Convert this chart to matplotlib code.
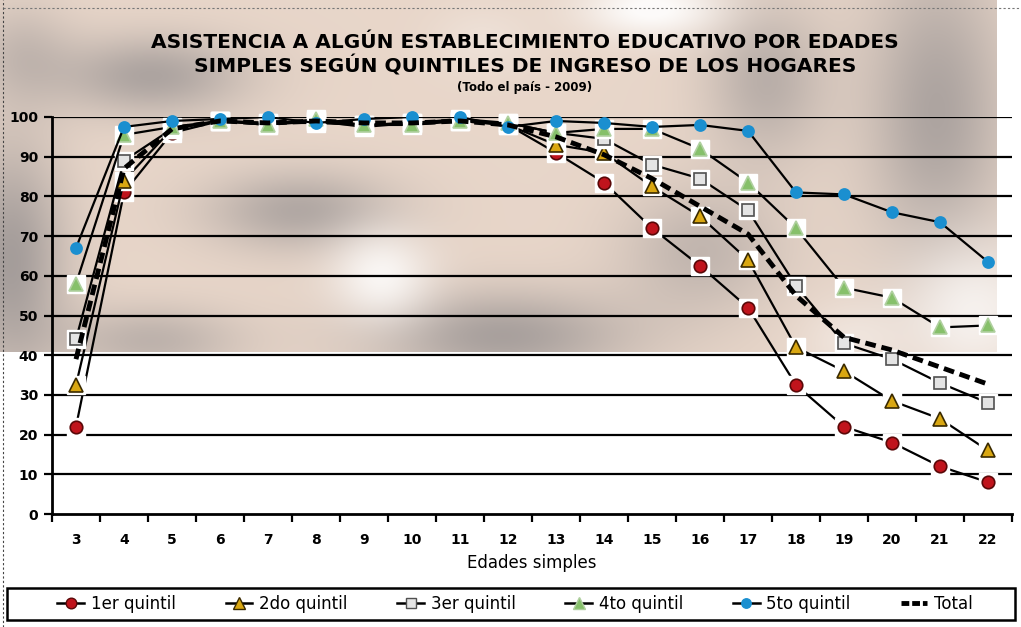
import numpy as np
import matplotlib.pyplot as plt
from matplotlib.lines import Line2D
from matplotlib.patches import Rectangle

plt.rcParams['font.family'] = ['DejaVu Sans']

edades = [str(e) for e in range(3, 23)]
q1 = [22, 81, 96, 99, 98.5, 98.5, 98, 98.5, 99, 98, 91, 83.5, 72, 62.5, 52, 32.5, 22, 18, 12, 8]
q2 = [32.5, 84, 97, 99, 98, 99, 98, 98.5, 99, 98, 93, 91, 82.5, 75, 64, 42, 36, 28.5, 24, 16]
q3 = [44, 89, 97, 99, 98.5, 99, 97.5, 98.5, 99.5, 98.5, 96, 94.5, 88, 84.5, 76.5, 57.5, 43, 39, 33, 28]
q4 = [58, 95.5, 97.5, 99, 98, 99.5, 98, 98, 99, 98.5, 96, 97, 97, 92, 83.5, 72, 57, 54.5, 47, 47.5]
q5 = [67, 97.5, 99, 99.5, 100, 98.5, 99.5, 100, 100, 97.5, 99, 98.5, 97.5, 98, 96.5, 81, 80.5, 76, 73.5, 63.5]
total = [39, 87, 97, 99, 98.5, 99, 98.5, 98.5, 99, 98, 95, 90.5, 84.5, 77.5, 70.5, 55, 44.5, 41.3, 37, 32.7]

fig = plt.figure(figsize=(10.21, 6.27), dpi=100)

# blurred photo-like background on the upper part (pixel grid, decoration only)
bg = fig.add_axes([0, 275 / 627, 996 / 1021, 352 / 627], zorder=-10)
yy, xx = np.mgrid[0:352:2, 0:996:2]
def blob(cx, cy, sx, sy, amp):
    return amp * np.exp(-(((xx - cx) / sx) ** 2 + ((yy - cy) / sy) ** 2))
dark = (blob(150, 75, 95, 40, 0.7) + blob(10, 260, 55, 120, 0.8) + blob(300, 210, 95, 40, 0.65)
        + blob(500, 335, 130, 45, 0.75) + blob(765, 80, 60, 80, 0.55) + blob(935, 110, 70, 150, 0.7)
        + blob(700, 250, 80, 65, 0.45) + blob(150, 340, 90, 35, 0.5) + blob(20, 50, 50, 50, 0.35))
light = (blob(380, 275, 50, 45, 0.8) + blob(650, 8, 70, 30, 0.95) + blob(970, 310, 70, 70, 0.7)
         + blob(480, 40, 50, 35, 0.25) + blob(850, 340, 50, 40, 0.35))
dark = np.clip(dark, 0, 0.8)
light = np.clip(light, 0, 0.9)
base = np.array([0.91, 0.84, 0.79])
grey = np.array([0.58, 0.56, 0.56])
img = np.empty(dark.shape + (3,))
for c in range(3):
    img[:, :, c] = base[c] * (1 - dark) + grey[c] * dark
    img[:, :, c] = img[:, :, c] * (1 - light) + 1.0 * light
bg.imshow(np.clip(img, 0, 1), aspect='auto', extent=[0, 1, 0, 1], interpolation='bilinear')
bg.axis('off')

ax = fig.add_axes([52 / 1021, 113 / 627, 960 / 1021, 397 / 627])
ax.patch.set_alpha(0)
x = np.arange(len(edades))

for v in range(10, 101, 10):
    ax.axhline(v, color='black', lw=1.6, zorder=1)

series = [
    (q1, 'o', '#c0141c', '#5a0808', 9, True, '1er quintil'),
    (q2, '^', '#d9a712', '#3a2a00', 10, True, '2do quintil'),
    (q3, 's', '#e4e4e4', '#505050', 8, True, '3er quintil'),
    (q4, '^', '#86c06a', '#b0d0a0', 10, True, '4to quintil'),
    (q5, 'o', '#1a8fd0', '#1a8fd0', 8, False, '5to quintil'),
]
handles = []
for i, (vals, mk, fc, ec, ms, back, lab) in enumerate(series):
    ax.plot(x, vals, color='black', lw=1.6, zorder=3 + i)
    if back:
        ax.plot(x, vals, ls='none', marker='s', ms=13.5, mfc='white', mec='white', zorder=3 + i, clip_on=False)
    ax.plot(x, vals, ls='none', marker=mk, ms=ms, mfc=fc, mec=ec, mew=1.2, zorder=3 + i, clip_on=False)
    handles.append(Line2D([], [], color='black', lw=1.8, marker=mk, ms=ms * 0.85,
                          mfc=fc, mec=ec, label=lab))

ax.plot(x, total, color='black', lw=3.5, ls=(0, (2.2, 1.2)), zorder=10)
handles.append(Line2D([], [], color='black', lw=3.5, ls=(0, (1.6, 0.6)), label='Total'))

ax.set_xlim(-0.5, len(edades) - 0.5)
ax.set_ylim(0, 100)
ax.set_yticks(range(0, 101, 10))
ax.set_xticks(x)
ax.set_xticklabels(edades)
ax.set_xticks(np.arange(-0.5, len(edades), 1), minor=True)
ax.tick_params(axis='x', which='major', length=0, pad=14, labelsize=10)
ax.tick_params(axis='x', which='minor', length=6, width=1.6, direction='out')
ax.tick_params(axis='y', length=6, width=1.6, labelsize=10, pad=4)
for t in ax.get_xticklabels() + ax.get_yticklabels():
    t.set_fontweight('bold')
for s in ['top', 'right']:
    ax.spines[s].set_visible(False)
for s in ['left', 'bottom']:
    ax.spines[s].set_linewidth(2)
ax.set_xlabel('Edades simples', fontsize=12, labelpad=5)

fig.text(0.514, 0.933, 'ASISTENCIA A ALGÚN ESTABLECIMIENTO EDUCATIVO POR EDADES',
         ha='center', va='center', fontsize=14.5, fontweight='bold')
fig.text(0.514, 0.894, 'SIMPLES SEGÚN QUINTILES DE INGRESO DE LOS HOGARES',
         ha='center', va='center', fontsize=14.5, fontweight='bold')
fig.text(0.514, 0.860, '(Todo el país - 2009)', ha='center', va='center', fontsize=8.5, fontweight='bold')

fig.add_artist(Rectangle((7 / 1021, 7 / 627), 1008 / 1021, 32 / 627, transform=fig.transFigure,
                         facecolor='white', edgecolor='black', lw=1.8, zorder=5))
leg = fig.legend(handles=handles, loc='center', bbox_to_anchor=(515 / 1021, 23 / 627), ncol=6,
                 fontsize=12, frameon=False, handlelength=1.6, handletextpad=0.4, columnspacing=3.0)
leg.set_zorder(6)

# dotted chart-area border
fig.add_artist(Line2D([3 / 1021, 3 / 1021], [0, 1], color='#444444', lw=0.8, ls=(0, (2, 2))))
fig.add_artist(Line2D([3 / 1021, 1], [1 - 8 / 627, 1 - 8 / 627], color='#777777', lw=0.8, ls=(0, (2, 2))))

fig.savefig('out.png', dpi=100)
